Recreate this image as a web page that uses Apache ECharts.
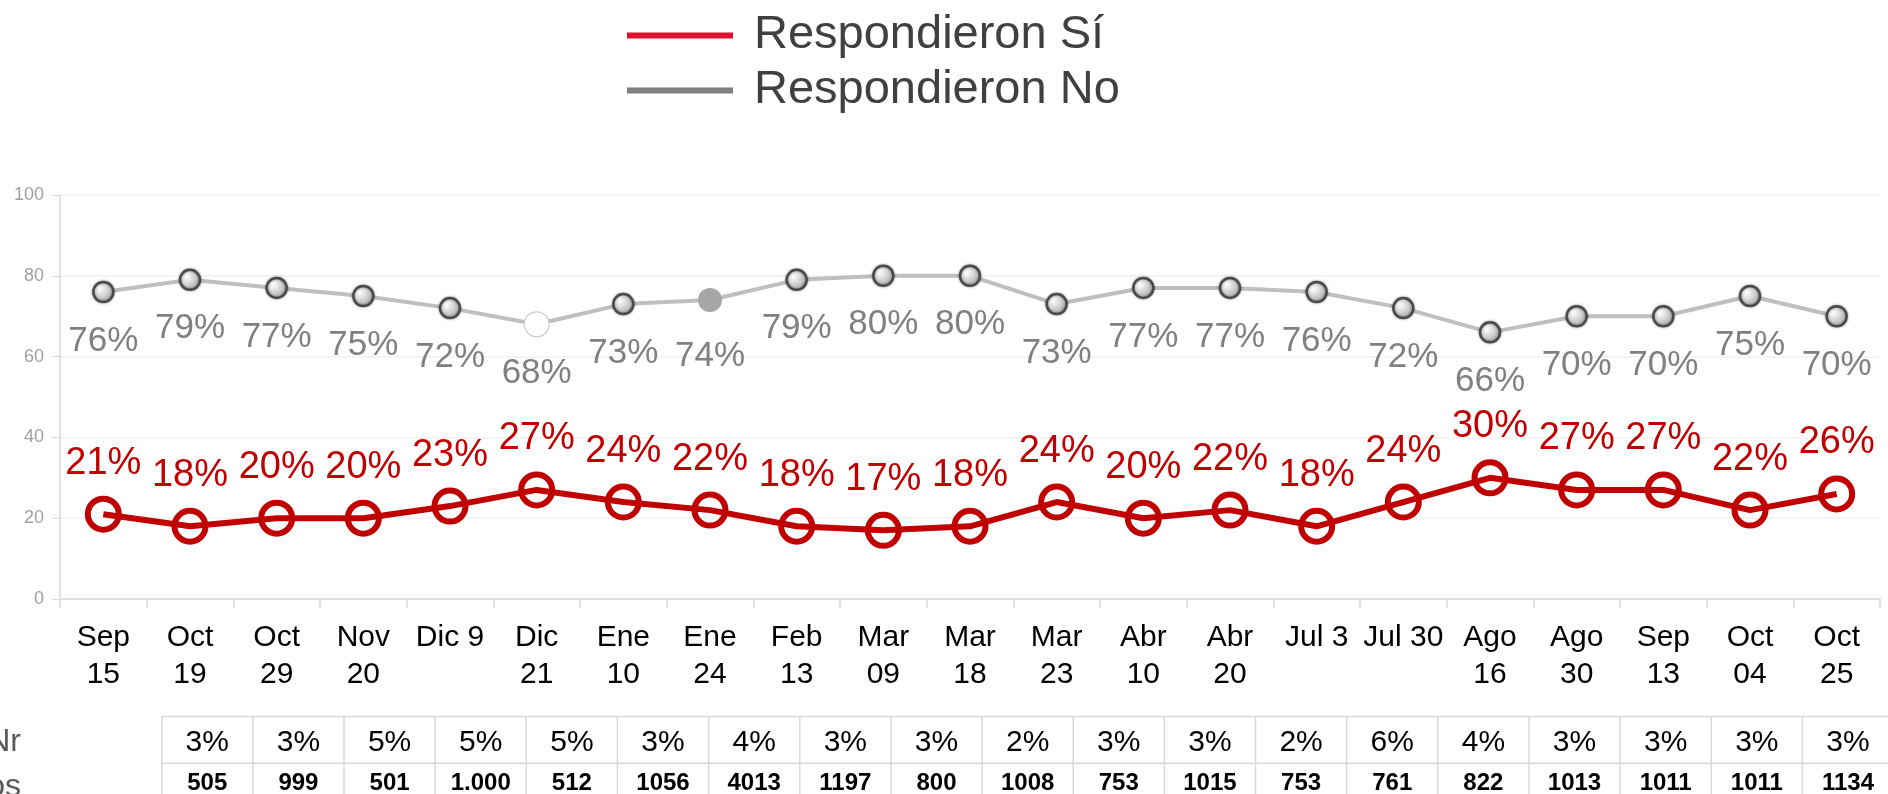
<!DOCTYPE html>
<html>
<head>
<meta charset="utf-8">
<script src="https://cdn.jsdelivr.net/npm/echarts@6/dist/echarts.min.js"></script>
<style>
  html, body { margin: 0; padding: 0; background: #fff; }
  #main { width: 1888px; height: 794px; }
</style>
</head>
<body>
<div id="main"></div>
<script>
// fechas de las encuestas
var categories = ["Sep\n15", "Oct\n19", "Oct\n29", "Nov\n20", "Dic 9", "Dic\n21", "Ene\n10", "Ene\n24",
  "Feb\n13", "Mar\n09", "Mar\n18", "Mar\n23", "Abr\n10", "Abr\n20", "Jul 3", "Jul 30",
  "Ago\n16", "Ago\n30", "Sep\n13", "Oct\n04", "Oct\n25"];
var siValues = [21, 18, 20, 20, 23, 27, 24, 22, 18, 17, 18, 24, 20, 22, 18, 24, 30, 27, 27, 22, 26];
var noValues = [76, 79, 77, 75, 72, 68, 73, 74, 79, 80, 80, 73, 77, 77, 76, 72, 66, 70, 70, 75, 70];
// tabla inferior
var nrValues = ["3%", "3%", "5%", "5%", "5%", "3%", "4%", "3%", "3%", "2%", "3%", "3%", "2%", "6%", "4%", "3%", "3%", "3%", "3%"];
var casosValues = ["505", "999", "501", "1.000", "512", "1056", "4013", "1197", "800", "1008", "753", "1015", "753", "761", "822", "1013", "1011", "1011", "1134"];
var rowLabels = ["Ns/Nr", "Casos"];
var yTicks = [0, 20, 40, 60, 80, 100];

var FONT = "'Liberation Sans', Arial, sans-serif";
var chart = echarts.init(document.getElementById("main"));

// marcadores del No: la mayoria con degradado, dos puntos distintos (como en el original)
var noData = noValues.map(function (v, i) {
  var item = { value: v };
  if (i === 5) {
    item.symbolSize = 25;
    item.itemStyle = { color: "#fff", borderColor: "#c8c8c8", borderWidth: 1.2, shadowBlur: 0 };
  } else if (i === 7) {
    item.symbolSize = 24;
    item.itemStyle = { color: "#a6a6a6", borderWidth: 0, shadowBlur: 0 };
    item.label = { offset: [0, 56] };
  }
  return item;
});

// tabla con graphic
var tx0 = 161.7, colW = 91.15, rowY = [716.5, 763.3], tableRight = 1888;
var graphics = [];
rowY.forEach(function (y) {
  graphics.push({ type: "line", shape: { x1: tx0, y1: y, x2: tableRight, y2: y },
    style: { stroke: "#d9d9d9", lineWidth: 1.5 } });
});
for (var i = 0; i <= nrValues.length; i++) {
  var x = tx0 + i * colW;
  graphics.push({ type: "line", shape: { x1: x, y1: rowY[0], x2: x, y2: 800 },
    style: { stroke: "#d9d9d9", lineWidth: 1.5 } });
}
nrValues.forEach(function (t, i) {
  graphics.push({ type: "text", x: tx0 + (i + 0.5) * colW, y: 742.5,
    style: { text: t, fill: "#000", font: "30px " + FONT, align: "center", verticalAlign: "middle" } });
});
casosValues.forEach(function (t, i) {
  graphics.push({ type: "text", x: tx0 + (i + 0.5) * colW, y: 783,
    style: { text: t, fill: "#000", font: "bold 24px " + FONT, align: "center", verticalAlign: "middle" } });
});
// etiquetas de fila, cortadas por el borde izquierdo como en el original
rowLabels.forEach(function (t, i) {
  graphics.push({ type: "text", x: 21, y: i === 0 ? 742.5 : 787,
    style: { text: t, fill: "#595959", font: "32px " + FONT, align: "right", verticalAlign: "middle" } });
});

var option = {
  animation: false,
  textStyle: { fontFamily: FONT },
  legend: {
    orient: "vertical",
    left: 622,
    top: 3,
    itemWidth: 106,
    itemHeight: 6,
    itemGap: 0,
    icon: "rect",
    textStyle: { fontSize: 47, lineHeight: 55, color: "#404040", padding: [0, 0, 0, 16], fontFamily: FONT },
    data: [
      { name: "Respondieron Sí", itemStyle: { color: "#dc1430", borderWidth: 0 } },
      { name: "Respondieron No", itemStyle: { color: "#808080", borderWidth: 0 } }
    ]
  },
  grid: { left: 60, right: 8, top: 195, bottom: 195, containLabel: false },
  xAxis: {
    type: "category",
    data: categories,
    boundaryGap: true,
    axisLine: { lineStyle: { color: "#d9d9d9", width: 1.5 } },
    axisTick: { show: true, length: 9, lineStyle: { color: "#d9d9d9", width: 1.5 } },
    axisLabel: { interval: 0, fontSize: 30, lineHeight: 37, color: "#000", margin: 20, fontFamily: FONT }
  },
  yAxis: {
    type: "value",
    min: yTicks[0],
    max: yTicks[yTicks.length - 1],
    interval: 20,
    axisLine: { show: true, lineStyle: { color: "#d9d9d9", width: 1.5 } },
    axisTick: { show: true, length: 8, lineStyle: { color: "#d9d9d9" } },
    splitLine: { lineStyle: { color: "#f0f0f0", width: 1.5 } },
    axisLabel: { fontSize: 18, color: "#a0a0a0", margin: 16, fontFamily: FONT }
  },
  series: [
    {
      name: "Respondieron No",
      type: "line",
      data: noData,
      symbol: "circle",
      symbolSize: 20,
      z: 3,
      lineStyle: { color: "#bfbfbf", width: 4 },
      itemStyle: {
        color: {
          type: "radial", x: 0.35, y: 0.35, r: 0.75,
          colorStops: [{ offset: 0, color: "#ffffff" }, { offset: 1, color: "#a0a0a0" }]
        },
        borderColor: "#4a4a4a",
        borderWidth: 2.5,
        shadowColor: "rgba(0,0,0,0.35)",
        shadowBlur: 3
      },
      label: {
        show: true,
        position: "inside",
        offset: [0, 49],
        formatter: "{c}%",
        fontSize: 35,
        color: "#808080",
        fontFamily: FONT
      }
    },
    {
      name: "Respondieron Sí",
      type: "line",
      data: siValues,
      symbol: "circle",
      symbolSize: 31,
      z: 4,
      lineStyle: { color: "#c00000", width: 6 },
      itemStyle: { color: "rgba(255,255,255,0)", borderColor: "#c00000", borderWidth: 6 },
      label: {
        show: true,
        position: "inside",
        offset: [0, -51],
        formatter: "{c}%",
        fontSize: 38,
        color: "#c00000",
        fontFamily: FONT
      }
    }
  ],
  graphic: graphics
};

chart.setOption(option);
window.onresize = function () {
  chart.resize();
};
</script>
</body>
</html>
